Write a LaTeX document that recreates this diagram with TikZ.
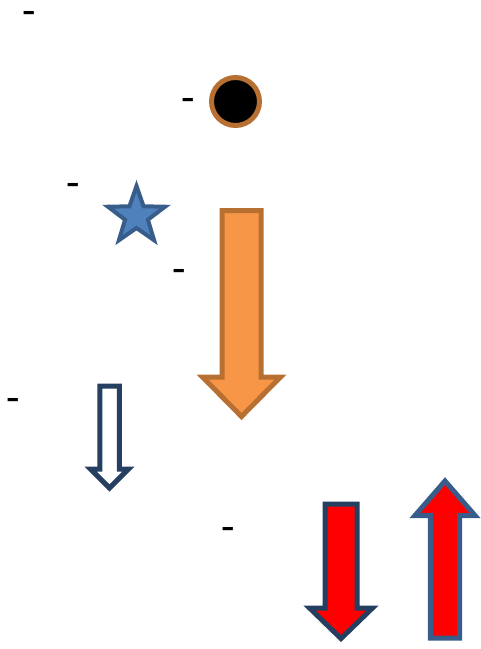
\documentclass[tikz,border=0pt]{standalone}
\usepackage{fontspec}
\setmainfont{Carlito}
\usetikzlibrary{shapes.geometric}
\definecolor{orangefill}{HTML}{F79646}
\definecolor{orangeline}{RGB}{184,112,50}
\definecolor{navyline}{HTML}{243F60}
\definecolor{blueline}{HTML}{385D8A}
\definecolor{bluefill}{HTML}{4F81BD}
\tikzstyle{minus} = [anchor=base, inner sep=0pt, text height=16pt, text depth=0pt, font=\fontsize{44}{44}\selectfont]
\tikzstyle{blockline} = [line width=5pt, line join=miter]
% style, centre x, start y, head y, tip y, shaft half width, head half width
\newcommand\blockarrow[7]{%
    \draw[blockline,#1] (#2-#6,#3) -- (#2+#6,#3) -- (#2+#6,#4) -- (#2+#7,#4)
        -- (#2,#5) -- (#2-#7,#4) -- (#2-#6,#4) -- cycle;
}

\begin{document}
\begin{tikzpicture}[x=1pt, y=-1pt]
    \useasboundingbox (0,0) rectangle (481,649);
    \node[minus] (m1) at (29.5,25) {-};
    \node[minus] (m2) at (188,112) {-};
    \node[minus] (m3) at (73,197.5) {-};
    \node[minus] (m4) at (179.5,283) {-};
    \node[minus] (m5) at (13,412) {-};
    \node[minus] (m6) at (228.5,541) {-};

    \node[circle, draw=orangeline, fill=black, line width=5pt, minimum size=48pt, inner sep=0pt] (hole) at (235.5,101.5) {};
    \node[star, star points=5, star point ratio=2.5, draw=blueline, fill=bluefill, line width=4pt, minimum size=60pt, inner sep=0pt] (star) at (136.5,216) {};

    \blockarrow{draw=orangeline, fill=orangefill}{241.5}{210.5}{377}{416.5}{19.5}{39}
    \blockarrow{draw=navyline, fill=white}{109.5}{386}{469}{488}{9.75}{19}
    \blockarrow{draw=navyline, fill=red}{341}{504}{608}{638.5}{16}{31.5}
    \blockarrow{draw=blueline, fill=red}{445}{638}{515.5}{481}{14.6}{30}
\end{tikzpicture}
\end{document}
